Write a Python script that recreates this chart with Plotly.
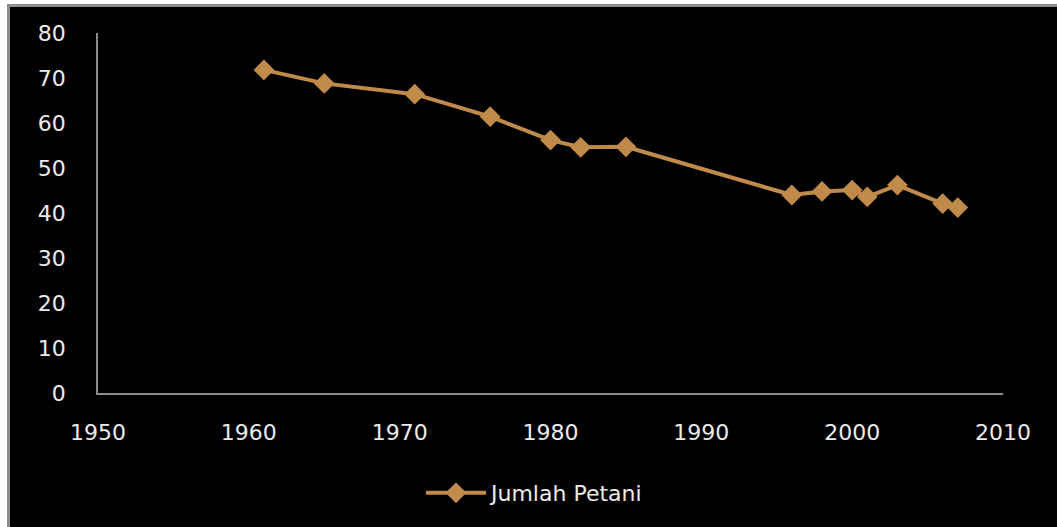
import plotly.graph_objects as go

# Jumlah petani per tahun
years = [1961, 1965, 1971, 1976, 1980, 1982, 1985, 1996, 1998, 2000, 2001, 2003, 2006, 2007]
farmers = [71.8, 68.8, 66.4, 61.4, 56.2, 54.6, 54.7, 44.0, 44.8, 45.1, 43.6, 46.2, 42.1, 41.2]
series_name = "Jumlah Petani"

x_ticks = [1950, 1960, 1970, 1980, 1990, 2000, 2010]
y_ticks = [0, 10, 20, 30, 40, 50, 60, 70, 80]

LINE_COLOR = "#C08A4B"
TEXT_COLOR = "#EBEBEB"
AXIS_COLOR = "#8A8A8A"
FONT = "DejaVu Sans"
FONT_SIZE = 22

W, H = 1057, 527
ML, MR, MT, MB = 98, 54, 33, 134
PW, PH = W - ML - MR, H - MT - MB


def px_x(p):
    return (p - ML) / PW


def px_y(p):
    return (H - MB - p) / PH


fig = go.Figure()
fig.add_trace(go.Scatter(
    x=years, y=farmers, name=series_name, mode="lines+markers",
    line=dict(color=LINE_COLOR, width=4),
    marker=dict(symbol="diamond", size=16, color=LINE_COLOR),
))

# black panel with grey frame on the left and top
fig.add_shape(
    type="rect", xref="paper", yref="paper", layer="below",
    x0=px_x(8.5), x1=px_x(W + 10), y0=px_y(H + 10), y1=px_y(5.5),
    line=dict(color="#8C8C8C", width=3), fillcolor="black",
)

fig.update_layout(
    width=W, height=H,
    margin=dict(l=ML, r=MR, t=MT, b=MB),
    paper_bgcolor="white", plot_bgcolor="black",
    font=dict(family=FONT, size=FONT_SIZE, color=TEXT_COLOR),
    showlegend=True,
    legend=dict(
        orientation="h", x=px_x(535), y=px_y(493),
        xanchor="center", yanchor="middle",
        bgcolor="rgba(0,0,0,0)", font=dict(size=FONT_SIZE, color=TEXT_COLOR),
        itemwidth=60,
    ),
)
fig.update_xaxes(
    range=[1950, 2010], tickvals=x_ticks, showgrid=False, zeroline=False,
    showline=True, linecolor=AXIS_COLOR, linewidth=1.5,
    ticks="", ticklabelstandoff=19, tickfont=dict(size=FONT_SIZE, color=TEXT_COLOR),
)
fig.update_yaxes(
    range=[0, 80], tickvals=y_ticks, showgrid=False, zeroline=False,
    showline=True, linecolor=AXIS_COLOR, linewidth=1.5,
    ticks="", ticklabelstandoff=26, tickfont=dict(size=FONT_SIZE, color=TEXT_COLOR),
)

fig.write_html("out.html")
